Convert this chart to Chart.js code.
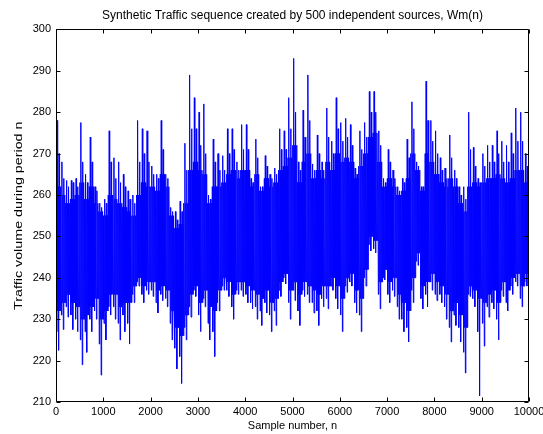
<!DOCTYPE html>
<html>
<head>
<meta charset="utf-8">
<title>Synthetic Traffic sequence</title>
<script src="https://cdn.jsdelivr.net/npm/chart.js@4.4.1/dist/chart.umd.min.js"></script>
<style>
    html, body { margin: 0; padding: 0; background: #fff; }
    canvas { display: block; }
</style>
</head>
<body>
<canvas id="traffic-chart" width="543" height="434"></canvas>
<script>
// Highest / lowest traffic volume inside each block of 100 samples
const peakHigh = [
    278, 268, 263.5, 263.5, 264, 277.5, 265, 274, 262, 258,
    259, 275.5, 269, 268, 265, 261, 260, 278, 276, 275.5,
    267, 265, 278, 265, 257, 256, 258.5, 272.5, 289, 283.5,
    280, 282, 260, 273.5, 270, 269.5, 276, 276, 268, 277,
    277, 264, 273.5, 262, 269.5, 265, 266.5, 276, 275.5, 283.5,
    293, 268, 280.5, 289, 267.5, 274.5, 268, 281, 273, 283.5,
    277.5, 278.5, 277, 266.5, 275.5, 277.5, 285, 285, 275.5, 264,
    271, 266, 262, 264, 273.5, 282.5, 268, 262, 287.5, 278,
    275.5, 269, 266.5, 274.5, 266, 262, 262, 280, 271.5, 264,
    270, 272, 272, 275.5, 273, 272, 275, 281, 280, 270
];
const peakLow = [
    222.5, 227.5, 230.5, 227.5, 227, 219, 222, 227, 230, 216.5,
    225, 231, 230, 225, 227, 224, 234, 238, 234, 236,
    235.5, 231.5, 234.5, 233, 225, 218, 214.5, 225, 230.5, 235.5,
    227, 233, 225, 221, 232, 237, 235.5, 230, 236, 235.5,
    234, 232.5, 230, 228.5, 231.5, 227, 228.5, 235.5, 238.5, 230,
    234.5, 228.5, 235.5, 234, 231.5, 228.5, 233, 232.5, 237, 232.5,
    227, 236.5, 238, 231.5, 227, 238, 246.5, 246, 232.5, 239.5,
    234, 235.5, 230, 227, 224.5, 234, 243, 232.5, 233, 237,
    234.5, 234, 230, 224.5, 228.5, 224.5, 217, 235.5, 233, 211.5,
    223.5, 230.5, 232.5, 225, 235.5, 232, 236, 238, 233, 238
];

// Second tallest spikes in the same blocks
const spikeHigh = [
    270, 264, 262, 263, 262, 268, 263, 268, 261, 257,
    258, 268, 264, 263, 262, 259, 258, 268, 270, 268,
    265, 264, 271, 264, 256, 254, 256, 266, 276, 276,
    272, 270, 259, 268, 266, 266, 270, 271, 266, 271,
    271, 263, 269, 262, 267, 264, 265, 271, 271, 276,
    280, 266, 274, 278, 266, 270, 266, 274, 270, 276,
    273, 274, 272, 265, 271, 274, 280, 280, 272, 263,
    268, 264, 261, 263, 269, 276, 267, 262, 278, 273,
    270, 266, 264, 269, 264, 260, 259, 271, 267, 263,
    267, 268, 268, 270, 268, 268, 270, 273, 273, 267
];
const spikeLow = [
    227, 231, 233, 231, 230, 225, 227, 230, 232, 224,
    229, 233, 233, 229, 231, 229, 236, 239, 236, 237,
    237, 234, 236, 235, 229, 223, 221, 228, 233, 237,
    231, 235, 229, 227, 234, 238, 237, 233, 237, 237,
    236, 234, 233, 232, 234, 231, 232, 237, 240, 234,
    237, 232, 237, 236, 234, 232, 235, 235, 238, 235,
    231, 238, 239, 234, 231, 240, 248, 247, 236, 240,
    236, 237, 233, 230, 228, 237, 244, 235, 236, 239,
    236, 236, 233, 228, 231, 228, 222, 236, 235, 227,
    229, 233, 234, 230, 237, 234, 238, 239, 235, 239
];

// Edges of the dense band most samples fall in
const bandTop = [
    262, 260, 258, 259, 260, 263, 259, 262, 258, 256,
    255, 260, 259, 258, 257, 256, 255, 260, 263, 262,
    262, 261, 265, 262, 255, 252, 253, 258, 266, 268,
    266, 265, 258, 262, 262, 263, 265, 266, 264, 266,
    266, 262, 265, 261, 264, 262, 263, 266, 267, 269,
    272, 263, 268, 270, 264, 266, 264, 268, 266, 270,
    268, 269, 268, 264, 267, 270, 274, 275, 268, 262,
    264, 262, 260, 261, 264, 270, 266, 261, 270, 268,
    265, 263, 262, 264, 262, 258, 256, 262, 263, 262,
    263, 264, 264, 265, 264, 263, 264, 266, 266, 263
];
const bandBottom = [
    232, 234, 236, 234, 233, 230, 231, 233, 235, 230,
    232, 236, 236, 233, 234, 234, 238, 240, 238, 239,
    239, 237, 238, 237, 232, 228, 226, 231, 236, 238,
    234, 237, 233, 232, 237, 240, 239, 236, 239, 239,
    238, 237, 236, 235, 237, 234, 235, 239, 241, 237,
    239, 236, 239, 238, 237, 236, 238, 238, 240, 238,
    235, 240, 241, 237, 235, 242, 250, 249, 239, 242,
    239, 240, 236, 234, 232, 240, 246, 238, 239, 241,
    239, 238, 236, 232, 234, 231, 228, 238, 237, 235,
    234, 236, 237, 234, 239, 237, 240, 241, 238, 241
];

const xTicks = [0, 1000, 2000, 3000, 4000, 5000, 6000, 7000, 8000, 9000, 10000];
const yTicks = [210, 220, 230, 240, 250, 260, 270, 280, 290, 300];

const BLOCK = 100;
const FONT = '"Liberation Sans", Arial, Helvetica, sans-serif';
const Y_TITLE = 'Traffic volume during period n';

function buildSeries() {
    const points = [];
    peakHigh.forEach((hi, i) => {
        const top = bandTop[i], bottom = bandBottom[i];
        const seq = [top, spikeLow[i], hi, bottom, top, peakLow[i], spikeHigh[i], bottom, top, bottom];
        seq.forEach((v, k) => {
            points.push({ x: i * BLOCK + (k + 0.5) * BLOCK / seq.length, y: v });
        });
    });
    return points;
}

// box round the plot with inward ticks on every side
const boxedAxes = {
    id: 'boxedAxes',
    afterDatasetsDraw(chart) {
        const { ctx, chartArea: a, scales: { x, y } } = chart;
        const left = Math.round(a.left) + 0.5, right = Math.round(a.right) - 0.5;
        const top = Math.round(a.top) + 0.5, bottom = Math.round(a.bottom) - 0.5;
        const len = 4;
        ctx.save();
        ctx.strokeStyle = '#000';
        ctx.lineWidth = 1;
        ctx.beginPath();
        x.ticks.forEach(t => {
            const px = Math.round(x.getPixelForValue(t.value)) + 0.5;
            ctx.moveTo(px, bottom); ctx.lineTo(px, bottom - len);
            ctx.moveTo(px, top); ctx.lineTo(px, top + len);
        });
        y.ticks.forEach(t => {
            const py = Math.round(y.getPixelForValue(t.value)) + 0.5;
            ctx.moveTo(left, py); ctx.lineTo(left + len, py);
            ctx.moveTo(right, py); ctx.lineTo(right - len, py);
        });
        ctx.rect(left, top, right - left, bottom - top);
        ctx.stroke();

        // y axis title, drawn stretched along its length
        ctx.translate(18.5, (a.top + a.bottom) / 2);
        ctx.rotate(-Math.PI / 2);
        ctx.scale(1.3, 1);
        ctx.fillStyle = '#000';
        ctx.font = '11px ' + FONT;
        ctx.textAlign = 'center';
        ctx.textBaseline = 'middle';
        ctx.fillText(Y_TITLE, 0, 0);
        ctx.restore();
    }
};

new Chart(document.getElementById('traffic-chart'), {
    type: 'line',
    data: {
        datasets: [{
            data: buildSeries(),
            borderColor: '#0000ff',
            borderWidth: 1,
            pointRadius: 0,
            tension: 0,
            fill: false,
        }]
    },
    options: {
        responsive: false,
        animation: false,
        events: [],
        layout: { padding: { left: 0, right: 14, top: 0, bottom: 0 } },
        plugins: {
            legend: { display: false },
            tooltip: { enabled: false },
            title: {
                display: true,
                fullSize: false,
                text: 'Synthetic Traffic sequence created by 500 independent sources, Wm(n)',
                color: '#000',
                font: { family: FONT, size: 12, weight: 'normal' },
                padding: { top: 8, bottom: 7 },
            }
        },
        scales: {
            x: {
                type: 'linear',
                min: 0, max: 10000,
                afterBuildTicks: s => { s.ticks = xTicks.map(v => ({ value: v })); },
                afterFit: s => { s.height = 32; s.paddingLeft = 0; s.paddingRight = 0; },
                grid: { display: false, drawTicks: false },
                border: { display: false },
                ticks: {
                    color: '#000', font: { family: FONT, size: 11 }, padding: 3,
                    autoSkip: false, maxRotation: 0, callback: v => String(v),
                },
                title: {
                    display: true, text: 'Sample number, n', color: '#000',
                    font: { family: FONT, size: 11 }, padding: { top: 0, bottom: 1 },
                }
            },
            y: {
                min: 210, max: 300,
                afterBuildTicks: s => { s.ticks = yTicks.map(v => ({ value: v })); },
                afterFit: s => { s.width = 56; s.paddingTop = 0; s.paddingBottom = 0; },
                grid: { display: false, drawTicks: false },
                border: { display: false },
                ticks: {
                    color: '#000', font: { family: FONT, size: 11 }, padding: 5,
                    autoSkip: false, callback: v => String(v),
                }
            }
        }
    },
    plugins: [boxedAxes]
});
</script>
</body>
</html>
